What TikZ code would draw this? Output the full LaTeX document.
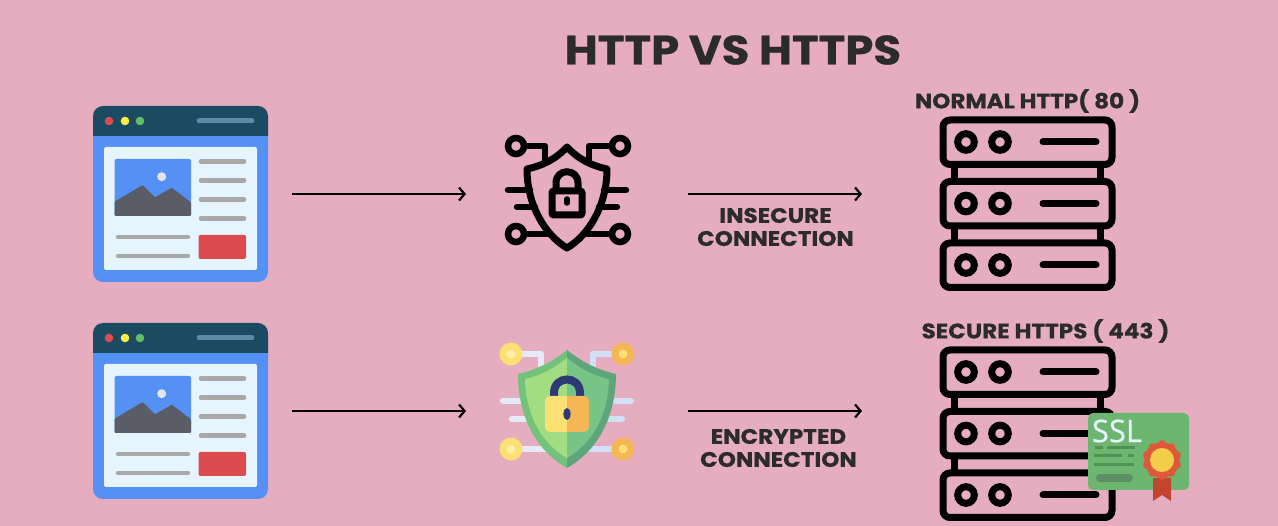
\documentclass[tikz,border=0pt]{standalone}
\usepackage{fontspec}
\setmainfont{Poppins}[BoldFeatures={FakeStretch=1.1,FakeBold=0.7}]
\newfontfamily\certfont{Open Sans}[FakeBold=0.4]
\usetikzlibrary{arrows.meta,shapes.geometric}
\definecolor{bgpink}{HTML}{E6ADC1}
\definecolor{inkdark}{HTML}{2B2B2B}
\definecolor{winhead}{HTML}{1B4A63}
\definecolor{winblue}{HTML}{5590F5}
\definecolor{winpanel}{HTML}{E6F4FD}
\definecolor{wingrey}{HTML}{A8A8A8}
\definecolor{winred}{HTML}{DC4B4E}
\definecolor{winrock}{HTML}{5A5D66}
\definecolor{shieldnavy}{HTML}{2D3A74}
\definecolor{padyellow}{HTML}{FDE073}
\definecolor{padpale}{HTML}{FFF0A8}
\definecolor{padorange}{HTML}{F5B656}
\definecolor{traceleft}{HTML}{E6E9F8}
\definecolor{traceright}{HTML}{D3DFF7}
\definecolor{rimleft}{HTML}{73C27C}
\definecolor{rimright}{HTML}{5EA57C}
\definecolor{faceleft}{HTML}{A3DD82}
\definecolor{faceright}{HTML}{77C586}
\definecolor{certgreen}{HTML}{6DB670}
\definecolor{certdark}{HTML}{4F9258}
\definecolor{certpill}{HTML}{5C8F64}
\definecolor{sealred}{HTML}{E0583C}
\definecolor{sealdark}{HTML}{C1452F}
\definecolor{sealgold}{HTML}{F2CD4A}
\tikzset{
iconbox/.style = {inner sep=0pt, outer sep=0pt},
flow/.style = {-{Straight Barb[length=5.5pt,width=13pt]}, line width=2.2pt, black},
heading/.style = {font=\bfseries\fontsize{41}{41}\selectfont, text=inkdark, inner sep=0pt},
caption/.style = {font=\bfseries\fontsize{21}{23}\selectfont, text=inkdark, inner sep=0pt, align=center},
bar/.style = {line width=4.5pt, line cap=round, wingrey},
rack/.style = {line width=7pt, rounded corners=7pt, black},
trace/.style = {line width=6.5pt, line cap=round, line join=round},
browser/.pic = {
  \fill [winblue, rounded corners=10pt] (93,125) rectangle (268,282);
  \fill [winhead, rounded corners=10pt] (93,106) rectangle (268,146);
  \fill [winblue] (93,136) rectangle (268,150);
  \fill [winpanel, rounded corners=2pt] (104,147) rectangle (257,270);
  \fill [winred] (109,121) circle (4.3pt);
  \fill [padyellow!60!yellow] (125,121) circle (4.3pt);
  \fill [certgreen!90!green] (140,121) circle (4.3pt);
  \draw [line width=5pt, line cap=round, cyan!35!winhead!90!white] (199,121) -- (252,121);
  \fill [winblue, rounded corners=2pt] (114.5,159) rectangle (191,216);
  \fill [winrock, rounded corners=1pt] (114.5,201.7) -- (142.7,185) -- (155,197.3) -- (171.7,187.7) -- (191,202.3) -- (191,216) -- (114.5,216) -- cycle;
  \fill [gray!20] (161.7,176.7) circle (4.5pt);
  \foreach \rowy in {161.5,180.5,199.5,218.5}
    \draw [bar] (201,\rowy) -- (244,\rowy);
  \foreach \rowy in {237,256}
    \draw [bar] (118,\rowy) -- (188,\rowy);
  \fill [winred, rounded corners=2pt] (198.5,235) rectangle (246,259);
},
server/.pic = {
  \foreach \rowy in {120,181.5,243} {
    \draw [rack] (943,\rowy) rectangle (1112,\rowy+44.5);
    \draw [line width=7pt] (966,\rowy+22) circle (8.3pt);
    \draw [line width=7pt] (1000,\rowy+22) circle (8.3pt);
    \draw [line width=7pt, line cap=round] (1043,\rowy+22) -- (1096,\rowy+22);
  }
  \foreach \colx in {954,1100} {
    \draw [line width=7pt] (\colx,164) -- (\colx,182);
    \draw [line width=7pt] (\colx,226) -- (\colx,243);
  }
},
blackshield/.pic = {
  \draw [line width=7pt, line join=round] (567,147) .. controls (555,160) and (541,166) .. (527,169) .. controls (527,205) and (545,235) .. (567,248) .. controls (589,235) and (607,205) .. (607,169) .. controls (593,166) and (579,160) .. (567,147) -- cycle;
  \draw [line width=7pt, rounded corners=2pt] (552,191) rectangle (582,215);
  \draw [line width=7pt] (556,190) -- (556,183) .. controls (556,168) and (578,168) .. (578,183) -- (578,190);
  \draw [line width=5.5pt, line cap=round] (567,199) -- (567,203);
  \foreach \dotx in {516,620}
    \foreach \doty in {146,234}
      \draw [line width=6.5pt] (\dotx,\doty) circle (8pt);
  \draw [trace] (524,146) -- (545,146) -- (545,160);
  \draw [trace] (610,146) -- (589,146) -- (589,160);
  \draw [trace] (524,234) -- (547,234);
  \draw [trace] (610,234) -- (587,234);
  \draw [trace] (508,190) -- (530,190);
  \draw [trace] (626,190) -- (604,190);
  \draw [trace] (517,207) -- (535,207);
  \draw [trace] (617,207) -- (599,207);
},
greenshield/.pic = {
  \draw [trace, traceleft] (520,354) -- (541,354) -- (541,372);
  \draw [trace, traceright] (614,354) -- (593,354) -- (593,372);
  \draw [trace, traceleft] (503,401) -- (526,401);
  \draw [trace, traceleft] (512,419) -- (532,419);
  \draw [trace, traceleft] (520,449) -- (545,449);
  \draw [trace, traceright] (631,401) -- (608,401);
  \draw [trace, traceright] (622,419) -- (602,419);
  \draw [trace, traceright] (614,449) -- (589,449);
  \foreach \doty in {354,449} {
    \fill [padyellow] (511,\doty) circle (11.5pt);
    \fill [padpale] (511,\doty) circle (4.5pt);
    \fill [padorange] (623,\doty) circle (11.5pt);
    \fill [padyellow] (623,\doty) circle (4.5pt);
  }
  \fill [rimleft] (567,350) .. controls (551,363) and (535,370) .. (518,374) .. controls (518,415) and (535,450) .. (567,468) -- cycle;
  \fill [rimright] (567,350) .. controls (583,363) and (599,370) .. (616,374) .. controls (616,415) and (599,450) .. (567,468) -- cycle;
  \fill [faceleft] (567,358) .. controls (553,369) and (540,376) .. (525,379) .. controls (526,415) and (541,443) .. (567,458) -- cycle;
  \fill [faceright] (567,358) .. controls (581,369) and (594,376) .. (609,379) .. controls (608,415) and (593,443) .. (567,458) -- cycle;
  \draw [line width=8pt, shieldnavy] (554,398) -- (554,393) .. controls (554,375) and (580,375) .. (580,393) -- (580,398);
  \fill [padyellow, rounded corners=5pt] (545,396) -- (567,396) -- (567,432) -- (545,432) -- cycle;
  \fill [padorange, rounded corners=5pt] (589,396) -- (567,396) -- (567,432) -- (589,432) -- cycle;
  \fill [padyellow] (563,396) rectangle (567,432);
  \fill [padorange] (567,396) rectangle (571,432);
  \fill [shieldnavy] (567,414) ellipse (3.6pt and 6pt);
},
sslcert/.pic = {
  \fill [certgreen, rounded corners=5pt] (1088,413) rectangle (1189,490);
  \node [font=\certfont\fontsize{31}{31}\selectfont, text=winpanel, inner sep=0pt] (ssltext) at (1117,431) {SSL};
  \draw [line width=3pt, certdark] (1095,448) -- (1103,448);
  \draw [line width=3pt, certdark] (1107,448) -- (1135,448);
  \draw [line width=3pt, certdark] (1094,456) -- (1122,456);
  \draw [line width=3pt, certdark] (1128,456) -- (1134,456);
  \draw [line width=3pt, certdark] (1094,465) -- (1134,465);
  \draw [line width=8pt, line cap=round, certpill] (1100,478) -- (1129,478);
  \fill [sealdark] (1153,478) -- (1153,501) -- (1162,495) -- (1171,501) -- (1171,478) -- cycle;
  \node [star, star points=10, star point ratio=1.2, fill=sealred, minimum size=41pt, inner sep=0pt, rounded corners=1.5pt] (rosette) at (1162,460) {};
  \fill [sealgold] (rosette.center) circle (12pt);
}
}

\begin{document}
\begin{tikzpicture}[x=1pt, y=-1pt]
  \fill [bgpink] (0,0) rectangle (1278,526);
  \useasboundingbox (0,0) rectangle (1278,526);

  \node [iconbox, minimum width=175pt, minimum height=176pt] (browsera) at (180.5,194) {};
  \node [iconbox, minimum width=175pt, minimum height=176pt] (browserb) at (180.5,411) {};
  \node [iconbox, minimum width=130pt, minimum height=110pt] (shielda)  at (567,194) {};
  \node [iconbox, minimum width=130pt, minimum height=120pt] (shieldb)  at (567,411) {};
  \node [iconbox, minimum width=177pt, minimum height=176pt] (servera)  at (1027.5,194) {};
  \node [iconbox, minimum width=177pt, minimum height=176pt] (serverb)  at (1027.5,411) {};

  \pic at (0,0)   {browser};
  \pic at (0,217) {browser};
  \pic at (0,0)   {blackshield};
  \pic at (0,0)   {greenshield};
  \pic at (0,0)   {server};
  \pic at (0,230) {server};
  \pic at (0,0)   {sslcert};

  \node [heading] (title) at (733,50) {HTTP VS HTTPS};
  \node [caption] (labelhttp)  at (1027.5,101) {NORMAL HTTP( 80 )};
  \node [caption] (labelhttps) at (1045.5,331) {SECURE HTTPS ( 443 )};
  \node [caption] (labelplain)  at (775.5,227) {INSECURE\\CONNECTION};
  \node [caption] (labelcrypt)  at (778.5,448) {ENCRYPTED\\CONNECTION};

  \draw [flow, shorten <=24pt, shorten >=36pt] (browsera.east) -- (shielda.west);
  \draw [flow, shorten <=56pt, shorten >=77pt] (shielda.east) -- (servera.west);
  \draw [flow, shorten <=24pt, shorten >=36pt] (browserb.east) -- (shieldb.west);
  \draw [flow, shorten <=56pt, shorten >=77pt] (shieldb.east) -- (serverb.west);
\end{tikzpicture}
\end{document}
